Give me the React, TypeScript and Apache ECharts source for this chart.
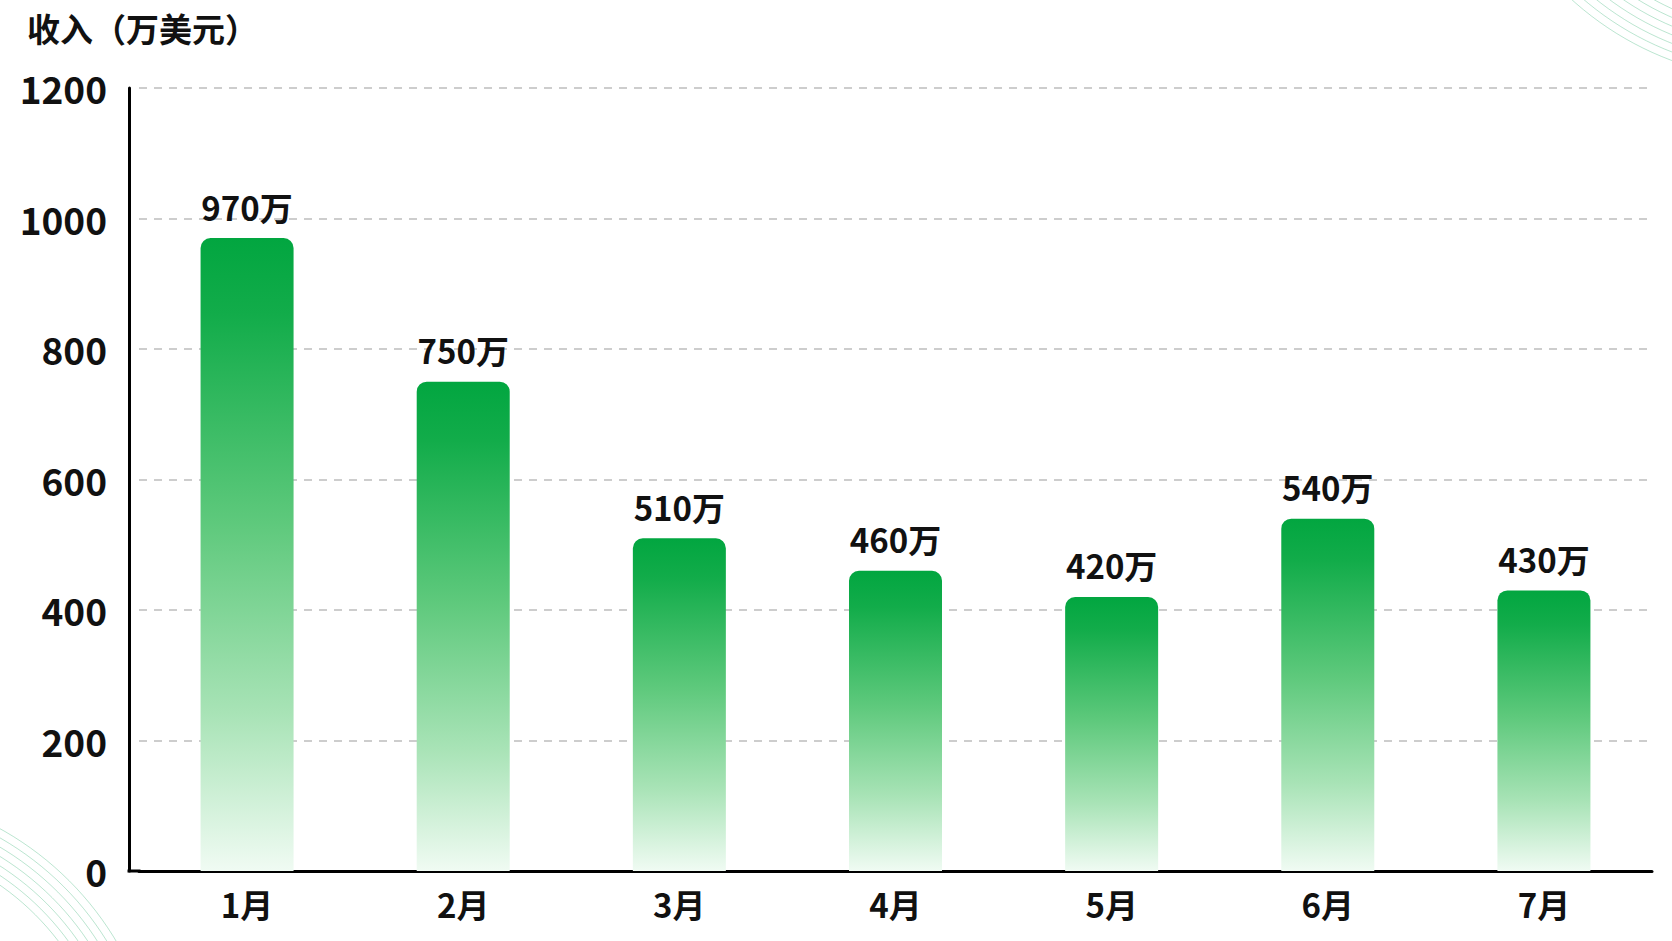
import React, { useEffect, useRef } from "react";
import * as echarts from "echarts";

const categories = ["1月", "2月", "3月", "4月", "5月", "6月", "7月"];
const revenue = [970, 750, 510, 460, 420, 540, 430];
const yTicks = { min: 0, max: 1200, interval: 200 };
const titleText = "收入（万美元）";

const FONT = '"Noto Sans CJK SC", "Noto Sans", sans-serif';

function arcs(cx: number, cy: number, radii: number[], start: number, end: number) {
  return radii.map((r) => ({
    type: "arc",
    silent: true,
    shape: { cx, cy, r, startAngle: start, endAngle: end },
    style: { stroke: "rgba(60,180,120,0.35)", lineWidth: 1, fill: "none" },
  }));
}

export default function App() {
  const ref = useRef<HTMLDivElement>(null);
  useEffect(() => {
    if (!ref.current) return;
    const chart = echarts.init(ref.current, null, { renderer: "svg" });
    const option = {
      animation: false,
      backgroundColor: "#ffffff",
      title: {
        text: titleText,
        left: 22,
        top: 6,
        textStyle: { fontFamily: FONT, fontSize: 33, fontWeight: "bold", color: "#111" },
      },
      grid: { left: 139, right: 20, top: 88, bottom: 70 },
      xAxis: {
        type: "category",
        data: categories,
        axisLine: { show: true, lineStyle: { color: "#000", width: 3 } },
        axisTick: { show: false },
        axisLabel: {
          margin: 16,
          fontFamily: FONT,
          fontSize: 33,
          fontWeight: "bold",
          color: "#111",
        },
      },
      yAxis: {
        type: "value",
        min: yTicks.min,
        max: yTicks.max,
        interval: yTicks.interval,
        offset: 10,
        axisLine: { show: true, lineStyle: { color: "#000", width: 3 } },
        axisTick: { show: false },
        axisLabel: {
          margin: 22,
          fontFamily: FONT,
          fontSize: 37,
          fontWeight: "bold",
          color: "#111",
          formatter: (v: number) => String(v),
        },
        splitLine: {
          show: true,
          lineStyle: { color: "#bdbdbd", width: 1.5, type: [8, 7] },
        },
      },
      series: [
        {
          type: "bar",
          data: revenue,
          barWidth: 93,
          itemStyle: {
            borderRadius: [10, 10, 0, 0],
            color: new echarts.graphic.LinearGradient(0, 0, 0, 1, [
              { offset: 0, color: "#02a640" },
              { offset: 0.12, color: "#12ac4a" },
              { offset: 0.45, color: "#5ec97c" },
              { offset: 0.75, color: "#a8e3b6" },
              { offset: 1, color: "#f0fbf3" },
            ]),
          },
          label: {
            show: true,
            position: "top",
            distance: 15,
            formatter: "{c}万",
            fontFamily: FONT,
            fontSize: 33,
            fontWeight: "bold",
            color: "#111",
          },
        },
      ],
      graphic: [
        {
          type: "rect",
          silent: true,
          shape: { x: 127.5, y: 869.5, width: 13, height: 3 },
          style: { fill: "#000" },
        },
        ...arcs(1780, -230, [262, 270, 278, 286, 294, 302, 310], 0, Math.PI * 2),
        ...arcs(-150, 1100, [262, 270, 278, 286, 294, 302, 310], 0, Math.PI * 2),
      ],
    };
    chart.setOption(option as any);
    return () => chart.dispose();
  }, []);
  return (
    <div
      ref={ref}
      style={{ position: "fixed", left: 0, top: 0, width: 1672, height: 941 }}
    />
  );
}
